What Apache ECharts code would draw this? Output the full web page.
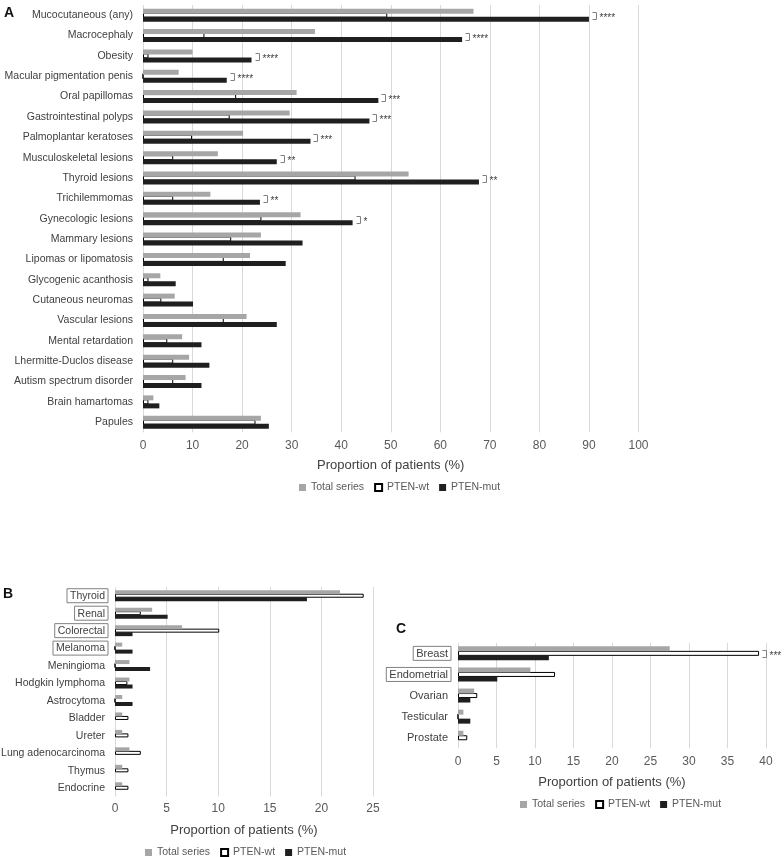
<!DOCTYPE html>
<html><head><meta charset="utf-8">
<script src="https://cdn.jsdelivr.net/npm/echarts@6/dist/echarts.min.js"></script>
<style>html,body{margin:0;padding:0;background:#fff}#c{width:784px;height:857px}</style>
</head><body><div id="c"></div>
<script>
const seriesNames = ['Total series', 'PTEN-wt', 'PTEN-mut'];
const axisTitle = 'Proportion of patients (%)';

const catA = ['Mucocutaneous (any)','Macrocephaly','Obesity','Macular pigmentation penis','Oral papillomas','Gastrointestinal polyps','Palmoplantar keratoses','Musculoskeletal lesions','Thyroid lesions','Trichilemmomas','Gynecologic lesions','Mammary lesions','Lipomas or lipomatosis','Glycogenic acanthosis','Cutaneous neuromas','Vascular lesions','Mental retardation','Lhermitte-Duclos disease','Autism spectrum disorder','Brain hamartomas','Papules'];
const totalA = [66.7,34.7,10.0,7.2,31.0,29.6,20.2,15.1,53.6,13.6,31.8,23.8,21.6,3.5,6.4,20.9,7.9,9.3,8.6,2.1,23.8];
const wtA    = [49.3,12.4,1.1,0,18.8,17.5,9.9,6.1,42.9,6.1,23.9,17.8,16.3,1.1,3.7,16.3,4.9,6.1,6.1,1.1,22.7];
const mutA   = [90.0,64.4,21.9,16.9,47.5,45.7,33.8,27.0,67.8,23.6,42.3,32.2,28.8,6.6,10.1,27.0,11.8,13.4,11.8,3.3,25.4];
const sigA   = ['****','****','****','****','***','***','***','**','**','**','*','','','','','','','','','',''];

const catB = ['Thyroid','Renal','Colorectal','Melanoma','Meningioma','Hodgkin lymphoma','Astrocytoma','Bladder','Ureter','Lung adenocarcinoma','Thymus','Endocrine'];
const totalB = [21.8,3.6,6.5,0.7,1.4,1.4,0.7,0.7,0.7,1.4,0.7,0.7];
const wtB    = [24.1,2.5,10.1,0,0,1.2,0,1.3,1.3,2.5,1.3,1.3];
const mutB   = [18.6,5.1,1.7,1.7,3.4,1.7,1.7,0,0,0,0,0];
const boxedB = ['Thyroid','Renal','Colorectal','Melanoma'];

const catC = ['Breast','Endometrial','Ovarian','Testicular','Prostate'];
const totalC = [27.5,9.4,2.1,0.7,0.7];
const wtC    = [39.1,12.6,2.5,0,1.2];
const mutC   = [11.8,5.1,1.6,1.6,0];
const sigC   = ['***','','','',''];
const boxedC = ['Breast','Endometrial'];

const FONT = 'Liberation Sans, Arial, sans-serif';
const chart = echarts.init(document.getElementById('c'), null, {renderer: 'canvas'});

function sigData(sig, wt, mut) {
  const out = [];
  sig.forEach((s, i) => { if (s) out.push({value: [Math.max(wt[i], mut[i]), i], stars: s}); });
  return out;
}
function bracketSeries(idx, data) {
  return {
    type: 'custom', xAxisIndex: idx, yAxisIndex: idx, z: 5, silent: true,
    data: data.map(d => d.value),
    renderItem: function (params, api) {
      const p = api.coord([api.value(0), api.value(1)]);
      const x = Math.round(p[0]) + 3.5, y = Math.round(p[1]);
      return {type: 'group', children: [
        {type: 'polyline', shape: {points: [[x, y - 2.5], [x + 4, y - 2.5], [x + 4, y + 4.5], [x, y + 4.5]]},
         style: {stroke: '#808080', lineWidth: 1, fill: null}},
        {type: 'text', style: {text: data[params.dataIndex].stars, x: x + 7, y: y + 3, fontSize: 10, fontFamily: FONT,
         fill: '#404040', verticalAlign: 'middle'}}
      ]};
    }
  };
}
function bars(idx, total, wt, mut, bw, gap) {
  return [
    {name: seriesNames[0], type: 'bar', xAxisIndex: idx, yAxisIndex: idx, data: total, barWidth: bw, barGap: gap, z: 3,
     itemStyle: {color: '#a6a6a6'}},
    {name: seriesNames[1], type: 'bar', xAxisIndex: idx, yAxisIndex: idx, data: wt, barWidth: bw, barGap: gap, z: 2,
     itemStyle: {color: '#ffffff', borderColor: '#000000', borderWidth: 1}},
    {name: seriesNames[2], type: 'bar', xAxisIndex: idx, yAxisIndex: idx, data: mut, barWidth: bw, barGap: gap, z: 3,
     itemStyle: {color: '#1f1f1f'}}
  ];
}
function xAx(idx, max, interval, margin, nameGap) {
  return {
    type: 'value', gridIndex: idx, min: 0, max: max, interval: interval,
    axisLine: {show: false}, axisTick: {show: false},
    splitLine: {show: true, lineStyle: {color: '#d9d9d9', width: 1}},
    axisLabel: {margin: margin, fontSize: 12, color: '#595959', fontFamily: FONT},
    name: axisTitle, nameLocation: 'middle', nameGap: nameGap,
    nameTextStyle: {fontSize: 13, color: '#404040', fontFamily: FONT}
  };
}
function richLab(fs) {
  return {
    box: {borderColor: '#808080', borderWidth: 1, padding: [2, 3, 1, 3], fontSize: fs, color: '#404040', fontFamily: FONT},
    plain: {padding: [2, 3, 1, 3], fontSize: fs, color: '#404040', fontFamily: FONT}
  };
}
function yAx(idx, cats, boxed, margin, fs) {
  return {
    type: 'category', gridIndex: idx, data: cats, inverse: true,
    axisLine: {show: false}, axisTick: {show: false}, splitLine: {show: false},
    axisLabel: {margin: margin, fontSize: fs, color: '#404040', fontFamily: FONT, interval: 0,
      formatter: boxed ? (v => (boxed.indexOf(v) >= 0 ? '{box|' + v + '}' : '{plain|' + v + '}')) : null,
      rich: boxed ? richLab(fs) : undefined}
  };
}
function legend(left, top) {
  return {left: left, top: top, data: seriesNames, icon: 'rect', itemWidth: 7, itemHeight: 7, itemGap: 10,
    textStyle: {fontSize: 10.5, color: '#595959', fontFamily: FONT}, selectedMode: false};
}

const option = {
  animation: false,
  textStyle: {fontFamily: FONT},
  grid: [
    {left: 143, top: 5, width: 495.5, height: 427.4, outerBoundsMode: 'none'},
    {left: 115, top: 587, width: 258, height: 209.5, outerBoundsMode: 'none'},
    {left: 458, top: 642.8, width: 308, height: 105.5, outerBoundsMode: 'none'}
  ],
  xAxis: [xAx(0, 100, 10, 7, 27), xAx(1, 25, 5, 6, 27), xAx(2, 40, 5, 7, 28)],
  yAxis: [yAx(0, catA, null, 10, 10.5), yAx(1, catB, boxedB, 7, 10.5), yAx(2, catC, boxedC, 7, 11)],
  legend: [legend(294, 477), legend(140, 842), legend(515, 794)],
  graphic: [
    {type: 'text', left: 4, top: 6, style: {text: 'A', font: 'bold 14px ' + FONT, fill: '#111'}},
    {type: 'text', left: 3, top: 587, style: {text: 'B', font: 'bold 14px ' + FONT, fill: '#111'}},
    {type: 'text', left: 396, top: 622, style: {text: 'C', font: 'bold 14px ' + FONT, fill: '#111'}}
  ],
  series: [].concat(
    bars(0, totalA, wtA, mutA, 5, '-20%'),
    bars(1, totalB, wtB, mutB, 4, '-12.5%'),
    bars(2, totalC, wtC, mutC, 5, '-10%'),
    [bracketSeries(0, sigData(sigA, wtA, mutA)), bracketSeries(2, sigData(sigC, wtC, mutC))]
  )
};
chart.setOption(option);
</script></body></html>
